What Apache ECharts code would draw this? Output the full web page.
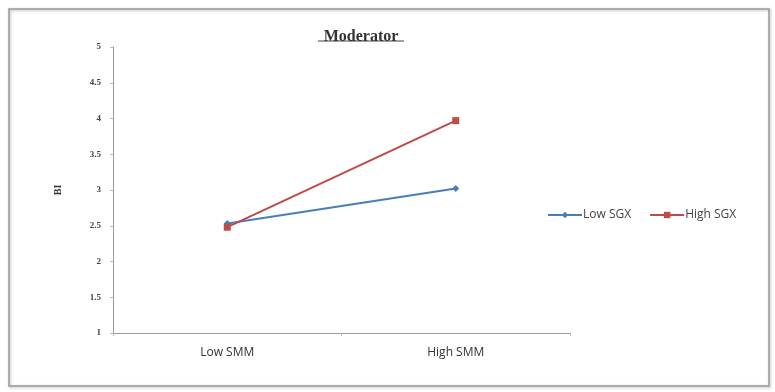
<!DOCTYPE html>
<html><head><meta charset="utf-8">
<script src="https://cdn.jsdelivr.net/npm/echarts@6/dist/echarts.min.js"></script>
<style>html,body{margin:0;padding:0;background:#fff}#c{width:775px;height:392px}</style>
</head><body><div id="c"></div>
<script>
var categories = ['Low SMM', 'High SMM'];
var lowSGX = [2.53, 3.02];
var highSGX = [2.48, 3.97];
var seriesNames = ['Low SGX', 'High SGX'];
var yTicks = [1, 1.5, 2, 2.5, 3, 3.5, 4, 4.5, 5];

var chart = echarts.init(document.getElementById('c'));
chart.setOption({
  animation: false,
  backgroundColor: '#fff',
  title: {
    text: 'Moderator', left: 356, top: 24, textAlign: 'center',
    textStyle: {fontFamily: 'Liberation Serif', fontSize: 16, fontWeight: 'bold', color: '#333'}
  },
  graphic: [
    {type: 'rect', shape: {x: 9, y: 9, width: 760, height: 377},
     style: {fill: 'none', stroke: '#999', lineWidth: 1.5, shadowBlur: 3, shadowColor: 'rgba(0,0,0,0.3)', shadowOffsetX: 1, shadowOffsetY: 1}},
    {type: 'line', shape: {x1: 318, y1: 41, x2: 404, y2: 41}, style: {stroke: '#444', lineWidth: 1}}
  ],
  legend: {
    data: seriesNames, left: 542, top: 204, itemWidth: 34, itemHeight: 8, itemGap: 18,
    textStyle: {fontFamily: 'Open Sans', fontSize: 12, color: '#444', padding: [0, 0, 0, -4]}
  },
  grid: {left: 113, right: 205, top: 47, bottom: 59, containLabel: false},
  xAxis: {
    type: 'category', data: categories, boundaryGap: true,
    axisLine: {lineStyle: {color: '#999'}},
    axisTick: {show: true, length: 3, lineStyle: {color: '#bbb'}},
    axisLabel: {fontFamily: 'Open Sans', fontSize: 12, color: '#333', margin: 14}
  },
  yAxis: {
    type: 'value', min: 1, max: 5, interval: 0.5,
    name: 'BI', nameLocation: 'middle', nameGap: 50, nameRotate: 90,
    nameTextStyle: {fontFamily: 'Liberation Serif', fontSize: 10, fontWeight: 'bold', color: '#333'},
    axisLine: {show: true, lineStyle: {color: '#999'}},
    axisTick: {show: true, length: 3, lineStyle: {color: '#bbb'}},
    splitLine: {show: false},
    axisLabel: {fontFamily: 'Liberation Serif', fontSize: 9, fontWeight: 'bold', color: '#444', margin: 12,
      formatter: function (v) { return yTicks.indexOf(v) >= 0 ? String(v) : ''; }}
  },
  series: [
    {name: seriesNames[0], type: 'line', data: lowSGX, symbol: 'diamond', symbolSize: 7,
     itemStyle: {color: '#4A7EBB'}, lineStyle: {color: '#4A7EBB', width: 2}},
    {name: seriesNames[1], type: 'line', data: highSGX, symbol: 'rect', symbolSize: 7,
     itemStyle: {color: '#BE4B48'}, lineStyle: {color: '#BE4B48', width: 2}}
  ]
});
</script></body></html>
